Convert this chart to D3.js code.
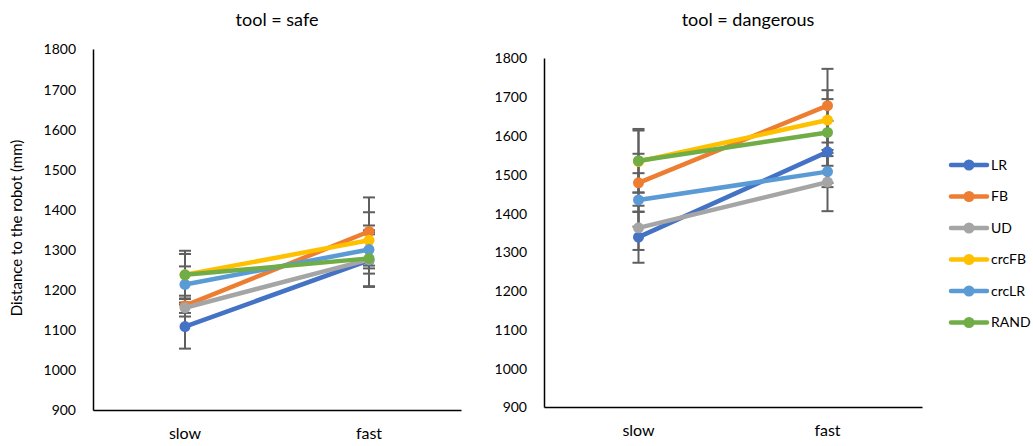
<!DOCTYPE html>
<html>
<head>
<meta charset="utf-8">
<script src="https://cdn.jsdelivr.net/npm/d3@7"></script>
<style>
  body { margin: 0; background: #fff; }
  text { font-family: Lato, "Open Sans", sans-serif; fill: #000; }
</style>
</head>
<body>
<svg id="graph" width="1033" height="446"></svg>
<script>
// Données
const categories = ["slow", "fast"];
const seriesNames = ["LR", "FB", "UD", "crcFB", "crcLR", "RAND"];
const seriesColors = ["#4472C4", "#ED7D31", "#A5A5A5", "#FFC000", "#5B9BD5", "#70AD47"];

// tool = safe : [slow, fast] par série
const safeValues = [[1108, 1273], [1160, 1345], [1155, 1275], [1237, 1323], [1213, 1300], [1237, 1278]];
const safeErrors = [[55, 65], [18, 85], [22, 68], [52, 70], [45, 60], [60, 70]];

// tool = dangerous
const dangerValues = [[1338, 1558], [1478, 1677], [1362, 1480], [1533, 1640], [1434, 1507], [1535, 1608]];
const dangerErrors = [[66, 80], [75, 95], [57, 75], [80, 77], [69, 40], [82, 86]];

const yTicks = [900, 1000, 1100, 1200, 1300, 1400, 1500, 1600, 1700, 1800];

const svg = d3.select("#graph");

function drawPanel(title, titleX, values, errors, box) {
    const xScale = d3.scaleBand()
        .domain(categories)
        .range([box.left, box.right]);

    const yScale = d3.scaleLinear()
        .domain([900, 1800])
        .range([box.bottom, box.top]);

    const cx = c => xScale(c) + xScale.bandwidth() / 2;

    // Titre
    svg.append("text")
        .text(title)
        .attr("x", titleX)
        .attr("y", 26)
        .attr("text-anchor", "middle")
        .style("font-size", "18px");

    // Axe y (labels seulement + ligne)
    svg.append("g")
        .attr("transform", `translate(${box.left},0)`)
        .call(d3.axisLeft(yScale).tickValues(yTicks).tickFormat(d3.format("d")).tickSize(0).tickPadding(17))
        .call(g => g.select(".domain").attr("stroke", "#000").attr("stroke-width", 1.5))
        .call(g => g.selectAll(".tick text").style("font-size", "14px").attr("dy", "0.35em"));

    // Axe x
    svg.append("g")
        .attr("transform", `translate(0,${box.bottom})`)
        .call(d3.axisBottom(xScale).tickSize(0).tickPadding(18))
        .call(g => g.select(".domain").attr("stroke", "#000").attr("stroke-width", 1.5))
        .call(g => g.selectAll(".tick text").style("font-size", "16px"));

    // Barres d'erreur
    const errG = svg.append("g");
    values.forEach((serie, i) => {
        serie.forEach((v, j) => {
            const x = cx(categories[j]);
            const e = errors[i][j];
            errG.append("line")
                .attr("x1", x).attr("x2", x)
                .attr("y1", yScale(v - e)).attr("y2", yScale(v + e))
                .attr("stroke", "#5f5f5f").attr("stroke-width", 2);
            [v - e, v + e].forEach(b => {
                errG.append("line")
                    .attr("x1", x - 6).attr("x2", x + 6)
                    .attr("y1", yScale(b)).attr("y2", yScale(b))
                    .attr("stroke", "#5f5f5f").attr("stroke-width", 2);
            });
        });
    });

    // Lignes + marqueurs
    const line = d3.line()
        .x((d, j) => cx(categories[j]))
        .y(d => yScale(d));

    values.forEach((serie, i) => {
        svg.append("path")
            .attr("d", line(serie))
            .attr("fill", "none")
            .attr("stroke", seriesColors[i])
            .attr("stroke-width", 4.5)
            .attr("stroke-linecap", "round");
        svg.selectAll(null)
            .data(serie)
            .enter()
            .append("circle")
            .attr("cx", (d, j) => cx(categories[j]))
            .attr("cy", d => yScale(d))
            .attr("r", 5.5)
            .attr("fill", seriesColors[i]);
    });
}

drawPanel("tool = safe", 277, safeValues, safeErrors, { left: 93, right: 461, top: 49, bottom: 410 });
drawPanel("tool = dangerous", 748, dangerValues, dangerErrors, { left: 544, right: 922, top: 58, bottom: 407 });

// Titre de l'axe y
svg.append("text")
    .text("Distance to the robot (mm)")
    .attr("transform", "translate(22,228) rotate(-90)")
    .attr("text-anchor", "middle")
    .style("font-size", "15px");

// Légende
const legend = svg.append("g");
seriesNames.forEach((name, i) => {
    const y = 165 + i * 31.5;
    legend.append("line")
        .attr("x1", 951).attr("x2", 987)
        .attr("y1", y).attr("y2", y)
        .attr("stroke", seriesColors[i])
        .attr("stroke-width", 4.5)
        .attr("stroke-linecap", "round");
    legend.append("circle")
        .attr("cx", 969).attr("cy", y).attr("r", 5.5)
        .attr("fill", seriesColors[i]);
    legend.append("text")
        .text(name)
        .attr("x", 991).attr("y", y)
        .attr("dy", "0.35em")
        .style("font-size", "14px");
});
</script>
</body>
</html>
